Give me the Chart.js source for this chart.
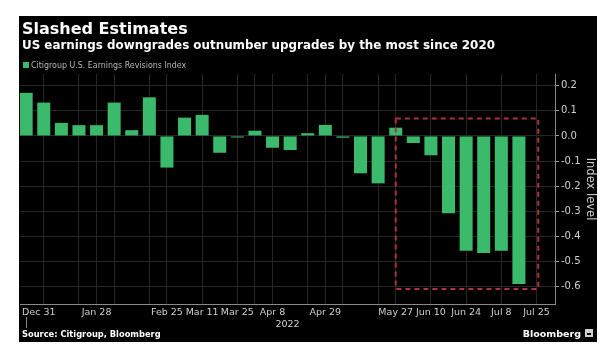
<!DOCTYPE html>
<html>
<head>
<meta charset="utf-8">
<script src="https://cdn.jsdelivr.net/npm/chart.js@4/dist/chart.umd.min.js"></script>
<style>
  html, body { margin: 0; padding: 0; background: #fff; }
  #wrap { width: 605px; height: 349px; }
</style>
</head>
<body>
<div id="wrap"><canvas id="chart" width="605" height="349"></canvas></div>
<script>
// weekly readings, Dec 31 2021 .. Jul 15 2022
const weeks = ['Dec 31', 'Jan 7', 'Jan 14', 'Jan 21', 'Jan 28', 'Feb 4', 'Feb 11', 'Feb 18', 'Feb 25',
    'Mar 4', 'Mar 11', 'Mar 18', 'Mar 25', 'Apr 1', 'Apr 8', 'Apr 15', 'Apr 22', 'Apr 29', 'May 6',
    'May 13', 'May 20', 'May 27', 'Jun 3', 'Jun 10', 'Jun 17', 'Jun 24', 'Jul 1', 'Jul 8', 'Jul 15'];
const revisions = [0.172, 0.133, 0.052, 0.043, 0.043, 0.133, 0.023, 0.154, -0.126,
    0.073, 0.084, -0.067, -0.006, 0.021, -0.047, -0.056, 0.011, 0.044, -0.007,
    -0.149, -0.189, 0.033, -0.028, -0.077, -0.308, -0.458, -0.467, -0.458, -0.59];

// x axis labels (week index) and the extra grid lines
const tickWeeks = [0, 4, 8, 10, 12, 14, 17, 21, 23, 25, 27, 29];
const tickLabels = ['Dec 31', 'Jan 28', 'Feb 25', 'Mar 11', 'Mar 25', 'Apr 8', 'Apr 29', 'May 27', 'Jun 10', 'Jun 24', 'Jul 8', 'Jul 25'];
const gridWeeks = [1, 3, 4, 5, 7, 8, 10, 12, 13, 14, 16, 17, 18, 20, 21, 23, 25, 27, 29];
const yTicks = [0.2, 0.1, 0, -0.1, -0.2, -0.3, -0.4, -0.5, -0.6];

// highlighted period (red dashed box)
const boxWeeks = [21, 29.1];
const boxValues = [0.07, -0.61];

const GREEN = '#3cba6c';
const FONT = '"DejaVu Sans", Verdana, sans-serif';

const frame = {
    id: 'frame',
    beforeDraw(chart) {
        const ctx = chart.ctx;
        ctx.save();
        ctx.fillStyle = '#ffffff';
        ctx.fillRect(0, 0, chart.width, chart.height);
        ctx.fillStyle = '#000000';
        ctx.fillRect(19, 16, 578, 326);
        ctx.restore();
    },
    afterDatasetsDraw(chart) {
        const ctx = chart.ctx;
        const x = chart.scales.x, y = chart.scales.y;
        const x0 = x.getPixelForValue(boxWeeks[0]), x1 = x.getPixelForValue(boxWeeks[1]);
        const y0 = y.getPixelForValue(boxValues[0]), y1 = y.getPixelForValue(boxValues[1]);
        ctx.save();
        ctx.strokeStyle = '#ac3342';
        ctx.lineWidth = 2;
        ctx.setLineDash([5, 4]);
        ctx.strokeRect(x0, y0, x1 - x0, y1 - y0);
        ctx.restore();
    },
    afterDraw(chart) {
        const ctx = chart.ctx;
        const x = chart.scales.x;
        const area = chart.chartArea;
        ctx.save();

        ctx.fillStyle = '#ffffff';
        ctx.textBaseline = 'alphabetic';
        ctx.textAlign = 'left';
        ctx.font = 'bold 16px ' + FONT;
        ctx.fillText('Slashed Estimates', 22, 34);
        ctx.font = 'bold 11.9px ' + FONT;
        ctx.fillText('US earnings downgrades outnumber upgrades by the most since 2020', 22, 49);

        // legend
        ctx.fillStyle = GREEN;
        ctx.fillRect(23, 62, 6, 6);
        ctx.fillStyle = '#b8b8b8';
        ctx.font = '8.8px "DejaVu Sans Condensed", ' + FONT;
        ctx.fillText('Citigroup U.S. Earnings Revisions Index', 31, 68);

        // x labels
        ctx.fillStyle = '#d0d0d0';
        ctx.font = '9.5px ' + FONT;
        tickWeeks.forEach((w, i) => {
            const px = x.getPixelForValue(w);
            const tw = ctx.measureText(tickLabels[i]).width;
            let left = px - tw / 2;
            if (left < area.left + 2) left = area.left + 2;
            ctx.fillText(tickLabels[i], left, 315);
        });
        ctx.textAlign = 'center';
        ctx.fillText('2022', x.getPixelForValue((x.min + x.max) / 2), 327);

        // year separator under first label
        ctx.strokeStyle = '#8a8a8a';
        ctx.lineWidth = 1;
        const sx = Math.round(x.getPixelForValue(0)) + 0.5;
        ctx.beginPath();
        ctx.moveTo(sx, 317);
        ctx.lineTo(sx, 328);
        ctx.stroke();

        // y axis title
        ctx.save();
        ctx.translate(590, 189);
        ctx.rotate(Math.PI / 2);
        ctx.fillStyle = '#d0d0d0';
        ctx.font = '11.5px ' + FONT;
        ctx.textAlign = 'center';
        ctx.textBaseline = 'middle';
        ctx.fillText('Index level', 0, 0);
        ctx.restore();

        // footer
        ctx.textAlign = 'left';
        ctx.fillStyle = '#ffffff';
        ctx.font = 'bold 8.3px ' + FONT;
        ctx.fillText('Source: Citigroup, Bloomberg', 22, 337);
        ctx.textAlign = 'right';
        ctx.font = 'bold 9.5px ' + FONT;
        ctx.fillText('Bloomberg', 581, 337);
        ctx.fillStyle = '#cfcfcf';
        ctx.fillRect(585, 329, 8, 8);
        ctx.fillStyle = '#000000';
        ctx.fillRect(587, 333, 4, 2);

        ctx.restore();
    }
};

new Chart(document.getElementById('chart'), {
    type: 'bar',
    data: {
        datasets: [{
            label: 'Citigroup U.S. Earnings Revisions Index',
            data: revisions.map((v, i) => ({ x: i, y: v })),
            backgroundColor: GREEN,
            borderWidth: 0,
            barPercentage: 0.74,
            categoryPercentage: 1
        }]
    },
    options: {
        responsive: false,
        animation: false,
        events: [],
        layout: { padding: { left: 20, top: 74, right: 0, bottom: 0 } },
        plugins: {
            legend: { display: false },
            tooltip: { enabled: false },
            title: { display: false }
        },
        scales: {
            x: {
                type: 'linear',
                offset: false,
                min: -0.35,
                max: 30.05,
                afterBuildTicks: (scale) => { scale.ticks = gridWeeks.map(v => ({ value: v })); },
                afterFit: (scale) => { scale.height = 45; },
                ticks: { display: false },
                grid: { color: '#262626', drawTicks: false, offset: false },
                border: { display: true, color: '#8a8a8a' }
            },
            y: {
                position: 'right',
                min: -0.67,
                max: 0.247,
                afterBuildTicks: (scale) => { scale.ticks = yTicks.map(v => ({ value: v })); },
                afterFit: (scale) => { scale.width = 50; },
                ticks: {
                    color: '#d0d0d0',
                    font: { family: FONT, size: 10 },
                    padding: 2,
                    callback: (v) => Math.abs(v) < 1e-9 ? '0.0' : v.toFixed(1)
                },
                grid: { color: '#262626', tickColor: '#a0a0a0', tickLength: 4 },
                border: { display: true, color: '#8a8a8a' }
            }
        }
    },
    plugins: [frame]
});
</script>
</body>
</html>
